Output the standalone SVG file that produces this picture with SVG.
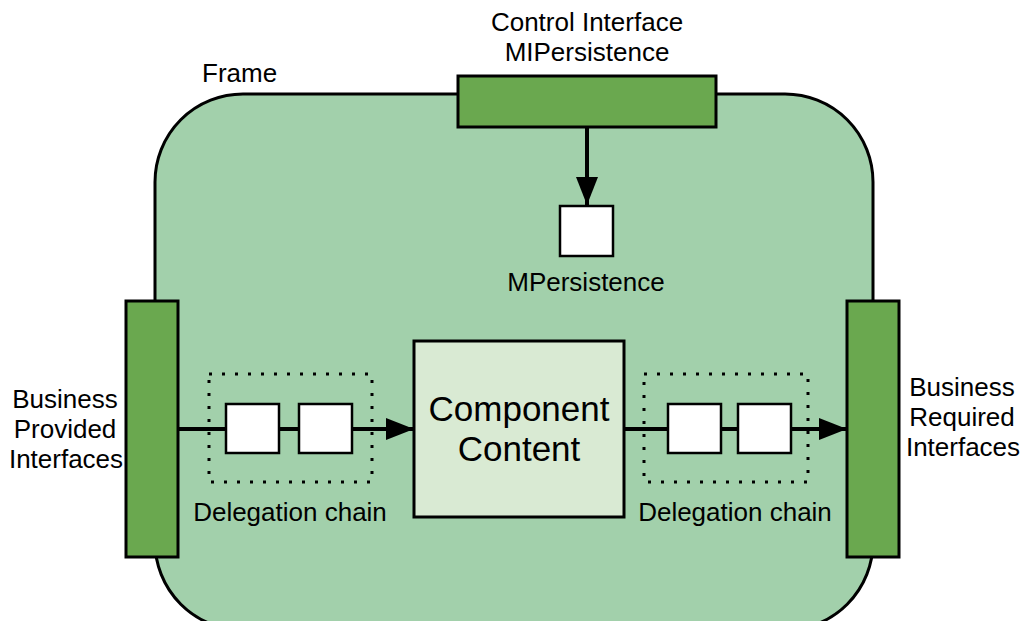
<svg xmlns="http://www.w3.org/2000/svg" width="1022" height="621" viewBox="0 0 1022 621">
<defs>
<style>
text{font-family:"Liberation Sans",Arial,sans-serif;font-size:26px;fill:#000}
.c{text-anchor:middle}
.bar{fill:#6aa84f;stroke:#000;stroke-width:3}
.sq{fill:#fff;stroke:#000;stroke-width:2.5}
.dot{fill:none;stroke:#000;stroke-width:3;stroke-dasharray:3 10}
.ln{stroke:#000;stroke-width:4;fill:none}
</style>
<marker id="ah" viewBox="0 0 28 22" refX="28" refY="11" markerWidth="28" markerHeight="22" markerUnits="userSpaceOnUse" orient="auto">
<path d="M0,0 L28,11 L0,22 z" fill="#000"/>
</marker>
</defs>
<g id="frame">
<rect x="155" y="94" width="718" height="536" rx="88" ry="88" fill="#a2d0ab" stroke="#000" stroke-width="3"/>
<text x="202" y="82">Frame</text>
</g>
<g id="connectors">
<line class="ln" x1="587" y1="127" x2="587" y2="205" marker-end="url(#ah)"/>
<line class="ln" x1="178" y1="429" x2="414" y2="429" marker-end="url(#ah)"/>
<line class="ln" x1="624" y1="429" x2="847" y2="429" marker-end="url(#ah)"/>
</g>
<g id="control-interface">
<rect class="bar" x="458" y="76" width="258" height="51"/>
<text class="c" x="587" y="31">Control Interface</text>
<text class="c" x="587" y="61">MIPersistence</text>
</g>
<g id="mpersistence">
<rect class="sq" x="560" y="206" width="53" height="50"/>
<text class="c" x="586" y="291">MPersistence</text>
</g>
<g id="business-provided">
<rect class="bar" x="126" y="301" width="52" height="256"/>
<text class="c" x="65" y="408">Business</text>
<text class="c" x="65" y="438">Provided</text>
<text class="c" x="66" y="468">Interfaces</text>
</g>
<g id="business-required">
<rect class="bar" x="847" y="301" width="52" height="256"/>
<text class="c" x="962" y="396">Business</text>
<text class="c" x="962" y="426">Required</text>
<text class="c" x="963" y="456">Interfaces</text>
</g>
<g id="component-content">
<rect x="414" y="341" width="210" height="176" fill="#d9ead3" stroke="#000" stroke-width="3"/>
<text class="c" x="519" y="421" style="font-size:35px">Component</text>
<text class="c" x="519" y="461" style="font-size:35px">Content</text>
</g>
<g id="delegation-left">
<rect class="dot" x="209" y="374" width="163" height="108"/>
<rect class="sq" x="226" y="404" width="53" height="49"/>
<rect class="sq" x="299" y="404" width="53" height="49"/>
<text class="c" x="290" y="521">Delegation chain</text>
</g>
<g id="delegation-right">
<rect class="dot" x="644" y="374" width="164" height="108"/>
<rect class="sq" x="668" y="404" width="53" height="49"/>
<rect class="sq" x="738" y="404" width="53" height="49"/>
<text class="c" x="735" y="521">Delegation chain</text>
</g>
</svg>
